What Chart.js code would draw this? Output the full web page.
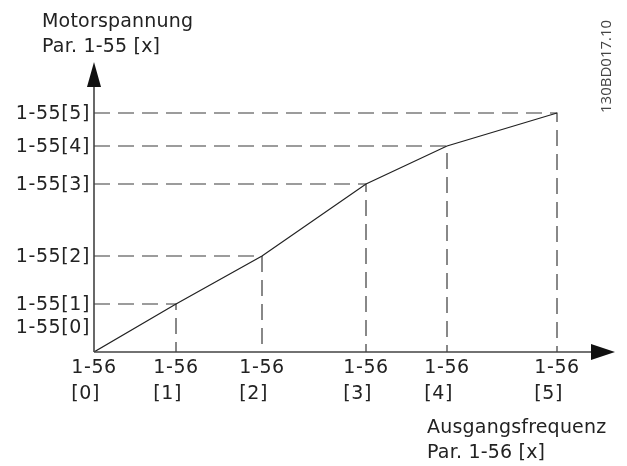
<!DOCTYPE html>
<html>
<head>
<meta charset="utf-8">
<script src="https://cdn.jsdelivr.net/npm/chart.js@4.4.0/dist/chart.umd.min.js"></script>
<style>
  html, body { margin: 0; padding: 0; background: #fff; }
</style>
</head>
<body>
<canvas id="curve" width="627" height="466"></canvas>
<script>
// Support points of the V/f curve (x = 1-56[n], y = 1-55[n])
const freqValues = [0, 82, 168, 272, 353, 463];
const voltValues = [0, 48, 96, 168, 206, 239];
const freqLabels = ['[0]', '[1]', '[2]', '[3]', '[4]', '[5]'];
const voltLabels = ['1-55[0]', '1-55[1]', '1-55[2]', '1-55[3]', '1-55[4]', '1-55[5]'];

const textFont = '19px "DejaVu Sans", Verdana, sans-serif';
const textColor = '#222';
const axisColor = '#444';

// Build datasets: the solid curve and one dashed guide per point
var curve = freqValues.map(function (f, i) { return { x: f, y: voltValues[i] }; });
var datasets = [{
  data: curve,
  borderColor: '#222',
  borderWidth: 1.2,
  pointRadius: 0,
  tension: 0
}];
for (var i = 1; i < freqValues.length; i++) {
  datasets.push({
    data: [{ x: 0, y: voltValues[i] }, { x: freqValues[i], y: voltValues[i] }, { x: freqValues[i], y: 0 }],
    borderColor: '#3a3a3a',
    borderWidth: 1.2,
    borderDash: [16, 8],
    pointRadius: 0,
    tension: 0
  });
}

// Draws axes with arrows and all labels
const axesPlugin = {
  id: 'axes',
  afterDraw: function (chart) {
    var c = chart.ctx;
    var xs = chart.scales.x, ys = chart.scales.y;
    var x0 = xs.getPixelForValue(0), y0 = ys.getPixelForValue(0);
    var top = chart.chartArea.top, right = chart.chartArea.right;
    c.save();
    c.strokeStyle = axisColor;
    c.fillStyle = '#111';
    c.lineWidth = 1.6;
    c.beginPath();
    c.moveTo(x0, y0); c.lineTo(x0, top + 22);
    c.moveTo(x0, y0); c.lineTo(right - 22, y0);
    c.stroke();
    // arrow heads
    c.beginPath();
    c.moveTo(x0, top); c.lineTo(x0 - 7, top + 25); c.lineTo(x0 + 7, top + 25); c.closePath();
    c.fill();
    c.beginPath();
    c.moveTo(right, y0); c.lineTo(right - 24, y0 - 8); c.lineTo(right - 24, y0 + 8); c.closePath();
    c.fill();

    c.font = textFont;
    c.fillStyle = textColor;
    c.letterSpacing = '0.6px';
    // y labels
    c.textAlign = 'right';
    c.textBaseline = 'middle';
    voltLabels.forEach(function (lbl, i) {
      var py = i === 0 ? y0 - 25 : ys.getPixelForValue(voltValues[i]);
      c.fillText(lbl, x0 - 4, py + 1);
    });
    // x labels
    c.textAlign = 'left';
    c.textBaseline = 'alphabetic';
    var w = c.measureText('1-56').width;
    freqValues.forEach(function (f, i) {
      var px = xs.getPixelForValue(f) - w / 2;
      c.fillText('1-56', px, y0 + 21);
      c.fillText(freqLabels[i], px, y0 + 47);
    });
    // axis titles
    c.letterSpacing = '0.2px';
    c.fillText('Motorspannung', 42, 27);
    c.fillText('Par. 1-55 [x]', 42, 52);
    c.fillText('Ausgangsfrequenz', 427, 433);
    c.fillText('Par. 1-56 [x]', 427, 458);
    // drawing id
    c.letterSpacing = '0px';
    c.font = '15px "Open Sans", sans-serif';
    c.fillStyle = '#444';
    c.translate(611, 113);
    c.rotate(-Math.PI / 2);
    c.fillText('130BD017.10', 0, 0);
    c.restore();
  }
};

var ctx = document.getElementById('curve').getContext('2d');
var myChart = new Chart(ctx, {
  type: 'line',
  data: { datasets: datasets },
  options: {
    responsive: false,
    animation: false,
    layout: { padding: { left: 94, top: 62, right: 12, bottom: 114 } },
    plugins: { legend: { display: false }, tooltip: { enabled: false } },
    scales: {
      x: { type: 'linear', min: 0, max: 521, display: false },
      y: { type: 'linear', min: 0, max: 290, display: false }
    }
  },
  plugins: [axesPlugin]
});
</script>
</body>
</html>
